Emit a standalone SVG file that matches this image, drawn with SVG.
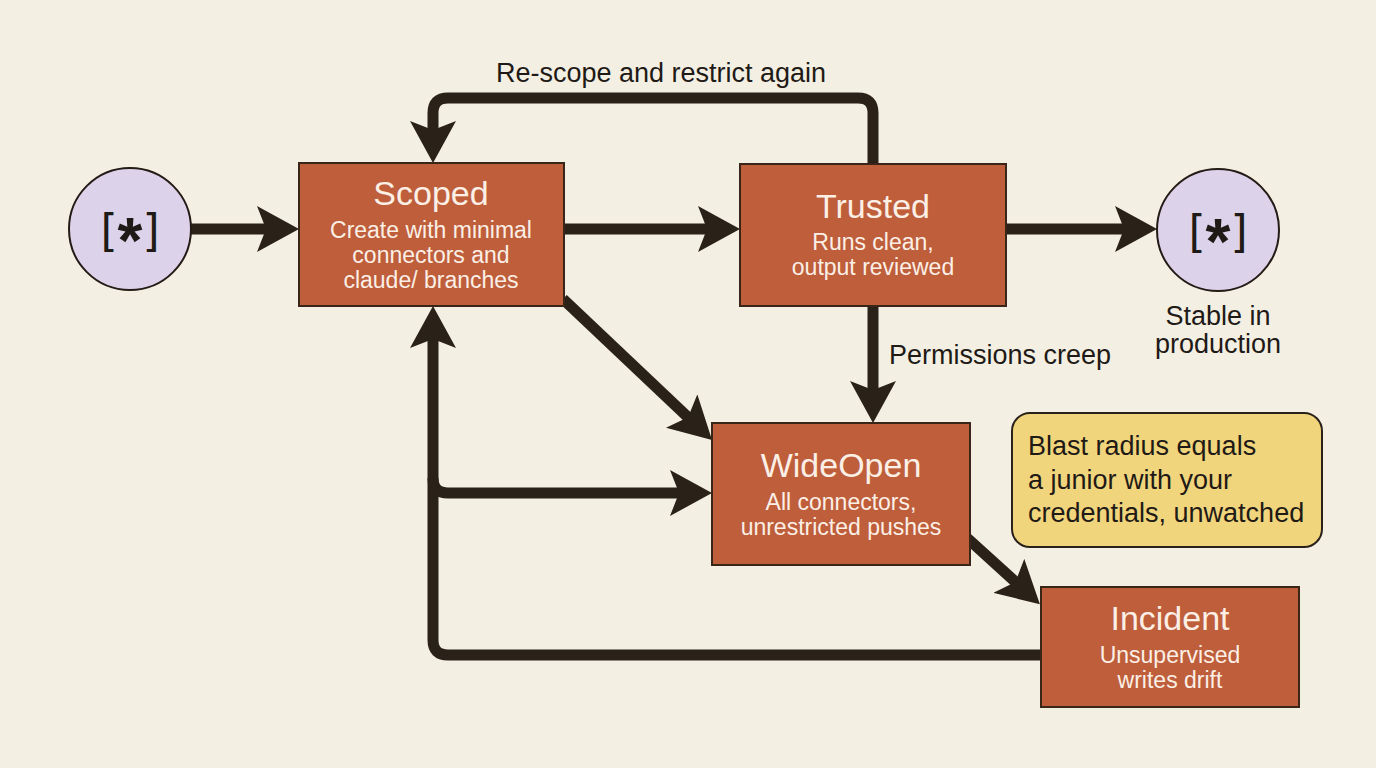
<svg xmlns="http://www.w3.org/2000/svg" width="1376" height="768" viewBox="0 0 1376 768">
<style>
.bg{fill:#f3efe3}
.box{fill:#be5e3b;stroke:#3a2519;stroke-width:2}
.circ{fill:#dcd2ea;stroke:#231c16;stroke-width:2}
.note{fill:#f1d57c;stroke:#2a211a;stroke-width:2}
.conn{fill:none;stroke:#2a2119;stroke-width:11;stroke-linejoin:round}
.t{font-family:"Liberation Sans",Arial,sans-serif;text-anchor:middle;fill:#fbefe6}
.title{font-size:34px}
.sub{font-size:23px}
.lbl{font-family:"Liberation Sans",Arial,sans-serif;font-size:27px;fill:#1f1a16}
.star{font-family:"DejaVu Sans",sans-serif;font-size:44px;fill:#1f1a16;text-anchor:middle}
.ast{font-family:"Liberation Sans",Arial,sans-serif;font-size:64px;font-weight:bold}
</style>
<defs>
<marker id="ah" markerUnits="userSpaceOnUse" viewBox="0 0 42 46" refX="22" refY="23" markerWidth="42" markerHeight="46" orient="auto">
<path d="M0,0 L42,23 L0,46 L9,23 Z" fill="#2a2119"/>
</marker>
</defs>
<rect class="bg" x="0" y="0" width="1376" height="768"/>

<g id="connectors">
<path class="conn" d="M191,229 H279" marker-end="url(#ah)"/>
<path class="conn" d="M564,229 H720" marker-end="url(#ah)"/>
<path class="conn" d="M1006,229 H1137" marker-end="url(#ah)"/>
<path class="conn" d="M873,163 V113 Q873,98 858,98 H448 Q433,98 433,113 V143" marker-end="url(#ah)"/>
<path class="conn" d="M873,306 V403" marker-end="url(#ah)"/>
<path class="conn" d="M563,299 L697.5,426.2" marker-end="url(#ah)"/>
<path class="conn" d="M433,478 Q433,493 448,493 H692" marker-end="url(#ah)"/>
<path class="conn" d="M1041,655 H448 Q433,655 433,640 V326" marker-end="url(#ah)"/>
<path class="conn" d="M966,537 L1025.1,590.7" marker-end="url(#ah)"/>
<text class="lbl" x="661" y="82" text-anchor="middle" font-size="27.5">Re-scope and restrict again</text>
<text class="lbl" x="889" y="364">Permissions creep</text>
</g>

<g id="start">
<circle class="circ" cx="130" cy="229" r="61"/>
<text class="star" x="130" y="246">[<tspan class="ast" dy="17">*</tspan><tspan dy="-17">]</tspan></text>
</g>

<g id="end">
<circle class="circ" cx="1218" cy="230" r="61"/>
<text class="star" x="1218" y="247">[<tspan class="ast" dy="17">*</tspan><tspan dy="-17">]</tspan></text>
<text class="lbl" x="1218" y="325" text-anchor="middle">Stable in</text>
<text class="lbl" x="1218" y="353" text-anchor="middle">production</text>
</g>

<g id="scoped">
<rect class="box" x="299" y="163" width="265" height="143"/>
<text class="t title" x="431" y="205">Scoped</text>
<text class="t sub" x="431" y="238">Create with minimal</text>
<text class="t sub" x="431" y="263">connectors and</text>
<text class="t sub" x="431" y="288">claude/ branches</text>
</g>

<g id="trusted">
<rect class="box" x="740" y="164" width="266" height="142"/>
<text class="t title" x="873" y="218">Trusted</text>
<text class="t sub" x="873" y="250">Runs clean,</text>
<text class="t sub" x="873" y="275">output reviewed</text>
</g>

<g id="wideopen">
<rect class="box" x="712" y="423" width="258" height="142"/>
<text class="t title" x="841" y="477">WideOpen</text>
<text class="t sub" x="841" y="510">All connectors,</text>
<text class="t sub" x="841" y="535">unrestricted pushes</text>
</g>

<g id="incident">
<rect class="box" x="1041" y="587" width="258" height="120"/>
<text class="t title" x="1170" y="630">Incident</text>
<text class="t sub" x="1170" y="663">Unsupervised</text>
<text class="t sub" x="1170" y="688">writes drift</text>
</g>

<g id="note">
<rect class="note" x="1012" y="413" width="310" height="134" rx="18"/>
<text class="lbl" x="1028" y="455">Blast radius equals</text>
<text class="lbl" x="1028" y="489">a junior with your</text>
<text class="lbl" x="1028" y="522">credentials, unwatched</text>
</g>
</svg>
